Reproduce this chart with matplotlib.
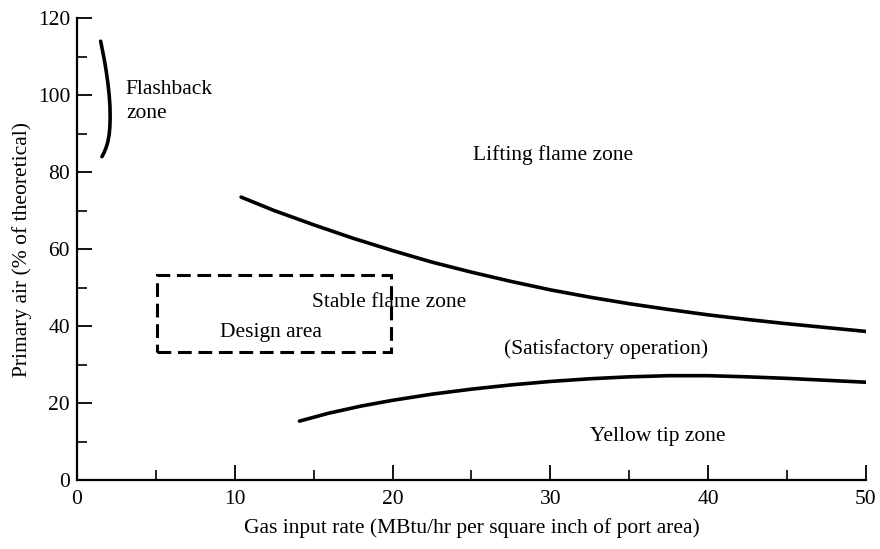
import matplotlib
matplotlib.use("Agg")
import matplotlib.pyplot as plt
from matplotlib.patches import Rectangle
import numpy as np

plt.rcParams['font.family'] = ['Liberation Serif', 'DejaVu Serif']

# Flashback boundary
flash_x = [1.5, 1.62, 1.74, 1.86, 1.96, 2.04, 2.09, 2.1, 2.08, 2.03, 1.95, 1.84, 1.71, 1.58]
flash_y = [114, 111.5, 109, 106, 103, 100, 97, 94, 91.5, 89.5, 87.8, 86.3, 85, 84]

# Lifting flame boundary
lift_x = [10.4, 12.5, 15, 17.5, 20, 22.5, 25, 27.5, 30, 32.5, 35, 37.5, 40, 42.5, 45, 47.5, 50]
lift_y = [73.5, 70.0, 66.3, 62.8, 59.6, 56.6, 54.0, 51.6, 49.4, 47.5, 45.8, 44.3, 42.9, 41.7, 40.6, 39.6, 38.6]

# Yellow tip boundary
yellow_x = [14.1, 16, 18, 20, 22.5, 25, 27.5, 30, 32.5, 35, 37.5, 40, 42.5, 45, 47.5, 50]
yellow_y = [15.3, 17.4, 19.2, 20.7, 22.3, 23.6, 24.7, 25.6, 26.3, 26.8, 27.1, 27.1, 26.8, 26.4, 25.9, 25.4]

# Design area box (x0, x1, y0, y1)
design_x = [5.1, 19.9]
design_y = [33.2, 53.3]

x_ticks = [0, 10, 20, 30, 40, 50]
y_ticks = [0, 20, 40, 60, 80, 100, 120]

fig = plt.figure(figsize=(8.8, 5.49), dpi=100)
ax = fig.add_axes([0.0875, 0.1257, 0.8965, 0.8413])

ax.plot(flash_x, flash_y, color='black', lw=2.6, solid_capstyle='round')
ax.plot(lift_x, lift_y, color='black', lw=2.6, solid_capstyle='round')
ax.plot(yellow_x, yellow_y, color='black', lw=2.6, solid_capstyle='round')

ax.add_patch(Rectangle((design_x[0], design_y[0]), design_x[1] - design_x[0],
                       design_y[1] - design_y[0], fill=False, edgecolor='black',
                       lw=2.2, linestyle=(0, (4.5, 2.2))))

fs = 15.5
ax.text(3.1, 98.3, 'Flashback\nzone', fontsize=fs, ha='left', va='center', linespacing=1.4)
ax.text(30.2, 84.4, 'Lifting flame zone', fontsize=fs, ha='center', va='center')
ax.text(19.8, 46.0, 'Stable flame zone', fontsize=fs, ha='center', va='center')
ax.text(12.3, 38.3, 'Design area', fontsize=fs, ha='center', va='center')
ax.text(33.5, 34.0, '(Satisfactory operation)', fontsize=fs, ha='center', va='center')
ax.text(36.8, 11.4, 'Yellow tip zone', fontsize=fs, ha='center', va='center')

ax.set_xlim(0, 50)
ax.set_ylim(0, 120)
ax.set_xticks(x_ticks)
ax.set_yticks(y_ticks)
ax.set_xticks(np.arange(5, 50, 10), minor=True)
ax.set_yticks(np.arange(10, 120, 20), minor=True)
ax.tick_params(which='major', direction='in', length=11, width=1.3, labelsize=fs)
ax.tick_params(which='minor', direction='in', length=7, width=1.2)
ax.tick_params(axis='x', pad=7)
ax.tick_params(axis='y', pad=5)
for s in ['top', 'right']:
    ax.spines[s].set_visible(False)
for s in ['left', 'bottom']:
    ax.spines[s].set_linewidth(1.6)

ax.set_xlabel('Gas input rate (MBtu/hr per square inch of port area)', fontsize=fs, labelpad=7)
ax.set_ylabel('Primary air (% of theoretical)', fontsize=fs, labelpad=4)

fig.savefig('out.png', dpi=100)
